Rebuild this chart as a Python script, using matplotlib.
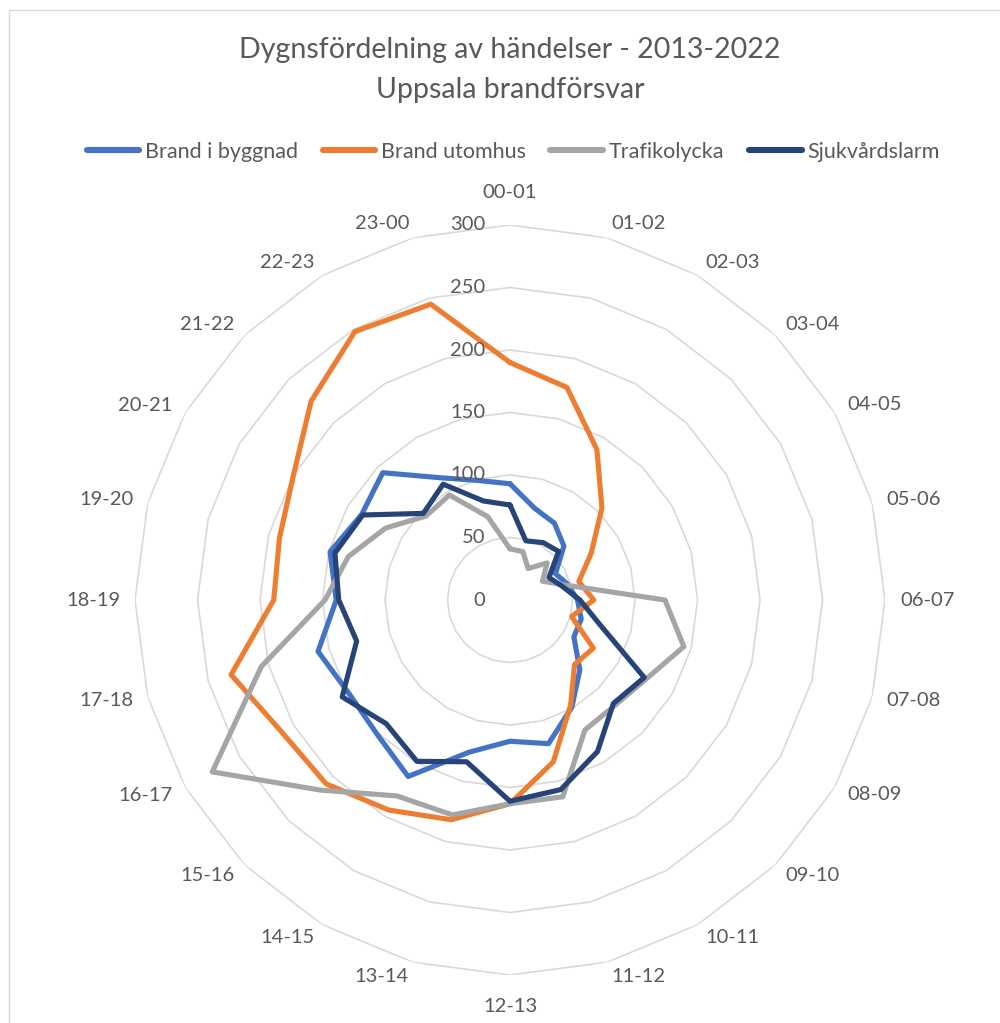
import numpy as np
import matplotlib
matplotlib.use("Agg")
import matplotlib.pyplot as plt
from matplotlib.transforms import offset_copy
from matplotlib.patches import Rectangle
from matplotlib.lines import Line2D

plt.rcParams['font.family'] = ['Lato', 'DejaVu Sans']

# ---------------- data ----------------
categories = ["00-01", "01-02", "02-03", "03-04", "04-05", "05-06", "06-07", "07-08",
              "08-09", "09-10", "10-11", "11-12", "12-13", "13-14", "14-15", "15-16",
              "16-17", "17-18", "18-19", "19-20", "20-21", "21-22", "22-23", "23-00"]

brand_i_byggnad = [93, 76, 71, 61, 42, 48, 54, 59, 59, 79, 99, 119,
                   113, 126, 163, 151, 149, 159, 139, 149, 137, 144, 113, 99]
brand_utomhus = [190, 176, 139, 104, 75, 57, 67, 51, 77, 73, 97, 134,
                 163, 182, 194, 208, 211, 231, 189, 191, 200, 225, 248, 245]
trafikolycka = [41, 40, 29, 42, 30, 46, 124, 144, 126, 119, 120, 163,
                163, 178, 181, 215, 275, 206, 148, 134, 115, 95, 97, 69]
sjukvardslarm = [76, 49, 53, 55, 36, 43, 56, 74, 124, 117, 140, 157,
                 161, 134, 149, 140, 155, 127, 137, 145, 136, 98, 107, 82]

series_names = ["Brand i byggnad", "Brand utomhus", "Trafikolycka", "Sjukvårdslarm"]
series_values = [brand_i_byggnad, brand_utomhus, trafikolycka, sjukvardslarm]
series_colors = ["#4472C4", "#ED7D31", "#A5A5A5", "#264478"]

r_ticks = [0, 50, 100, 150, 200, 250, 300]

title_line1 = "Dygnsfördelning av händelser - 2013-2022"
title_line2 = "Uppsala brandförsvar"

# ---------------- figure ----------------
W, H = 1000, 1023
fig = plt.figure(figsize=(W / 100, H / 100), dpi=100)

cx, cy, R = 510, 600, 375
ax = fig.add_axes([(cx - R) / W, (H - cy - R) / H, 2 * R / W, 2 * R / H],
                  projection='polar')
ax.set_theta_zero_location('N')
ax.set_theta_direction(-1)
ax.set_ylim(0, 300)
ax.grid(False)
ax.set_xticks([])
ax.set_yticks([])
ax.spines['polar'].set_visible(False)
ax.patch.set_alpha(0)

n = len(categories)
theta = np.linspace(0, 2 * np.pi, n, endpoint=False)
theta_c = np.append(theta, theta[0])

text_col = "#595959"
grid_col = "#D9D9D9"

# polygon gridlines
for r in r_ticks[1:]:
    ax.plot(theta_c, [r] * (n + 1), color=grid_col, lw=1.2, zorder=1)

# series
for name, vals, col in zip(series_names, series_values, series_colors):
    v = np.append(vals, vals[0])
    ax.plot(theta_c, v, color=col, lw=3.7, solid_joinstyle='round',
            solid_capstyle='round', zorder=3, label=name)

# radial tick labels
tr = offset_copy(ax.transData, fig=fig, x=-25, y=0, units='dots')
for r in r_ticks:
    ax.text(0, r, str(r), transform=tr, ha='right', va='center',
            fontsize=14.5, color=text_col, zorder=4)

# category labels
for t, lab in zip(theta, categories):
    s, c = np.sin(t), np.cos(t)
    if abs(s) < 0.05:
        dx, dy = 0, 32 * c
        ha = 'center'
    else:
        dx, dy = 15 * s, 15 * c
        ha = 'left' if s > 0 else 'right'
    trc = offset_copy(ax.transData, fig=fig, x=dx, y=dy, units='dots')
    ax.text(t, 300, lab, transform=trc, ha=ha, va='center',
            fontsize=14.5, color=text_col)

# titles
fig.text(cx / W, 1 - 50 / H, title_line1, ha='center', va='center',
         fontsize=20.5, color=text_col)
fig.text(cx / W, 1 - 90 / H, title_line2, ha='center', va='center',
         fontsize=20.5, color=text_col)

# legend
handles = [Line2D([0], [0], color=c, lw=4.4, solid_capstyle='round') for c in series_colors]
fig.legend(handles, series_names, loc='center', bbox_to_anchor=(513 / W, 1 - 152 / H),
           ncol=4, frameon=False, fontsize=15.5, handlelength=2.45, handletextpad=0.25,
           columnspacing=1.15, labelcolor=text_col)

# chart border
fig.add_artist(Rectangle((9 / W, -0.02), 1.05, 1 - 10 / H + 0.02, transform=fig.transFigure,
                         fill=False, edgecolor=grid_col, lw=1.0))

fig.savefig("out.png", dpi=100, facecolor='white')
